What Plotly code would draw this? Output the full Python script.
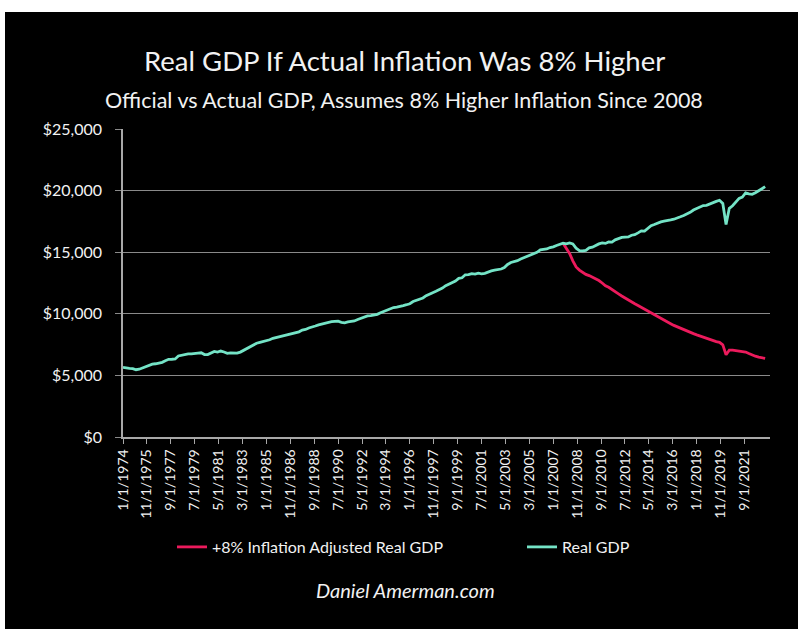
import pandas as pd
import plotly.graph_objects as go

# Quarterly real GDP (billions), 1974 Q1 .. 2023 Q2
quarters = pd.date_range("1974-01-01", "2023-04-01", freq="QS").strftime("%Y-%m-%d").tolist()

real_gdp = [
    5648, 5639, 5573, 5553,   # 1974
    5460, 5498, 5607, 5697,   # 1975
    5860, 5913, 5946, 5993,   # 1976
    6063, 6189, 6307, 6310,   # 1977
    6330, 6577, 6646, 6726,   # 1978
    6741, 6749, 6800, 6816,   # 1979
    6837, 6697, 6688, 6814,   # 1980
    6947, 6895, 6978, 6902,   # 1981
    6795, 6826, 6800, 6802,   # 1982
    6892, 7048, 7189, 7339,   # 1983
    7484, 7612, 7687, 7749,   # 1984
    7825, 7893, 8014, 8073,   # 1985
    8149, 8185, 8264, 8314,   # 1986
    8371, 8457, 8535, 8675,   # 1987
    8729, 8845, 8897, 9008,   # 1988
    9101, 9171, 9239, 9257,   # 1989
    9359, 9392, 9398, 9313,   # 1990
    9270, 9341, 9388, 9422,   # 1991
    9534, 9638, 9733, 9834,   # 1992
    9851, 9908, 9956, 10091,  # 1993
    10189, 10327, 10387, 10506,  # 1994
    10543, 10576, 10666, 10737,  # 1995
    10817, 10998, 11097, 11212,  # 1996
    11284, 11472, 11616, 11716,  # 1997
    11832, 11942, 12092, 12287,  # 1998
    12403, 12499, 12662, 12877,  # 1999
    12925, 13163, 13178, 13260,  # 2000
    13222, 13300, 13244, 13281,  # 2001
    13398, 13478, 13539, 13560,  # 2002
    13635, 13752, 14004, 14165,  # 2003
    14234, 14313, 14445, 14558,  # 2004
    14716, 14785, 14920, 14992,  # 2005
    15194, 15242, 15264, 15381,  # 2006
    15431, 15545, 15616, 15724,  # 2007
    15671, 15752, 15667, 15329,  # 2008
    15135, 15110, 15152, 15347,  # 2009
    15409, 15558, 15671, 15750,  # 2010
    15712, 15826, 15821, 16004,  # 2011
    16130, 16199, 16221, 16240,  # 2012
    16377, 16423, 16566, 16728,  # 2013
    16706, 16903, 17150, 17248,  # 2014
    17370, 17462, 17514, 17541,  # 2015
    17618, 17677, 17806, 17874,  # 2016
    17981, 18089, 18238, 18426,  # 2017
    18538, 18672, 18787, 18803,  # 2018
    18928, 19022, 19122, 19216,  # 2019
    18952, 17254, 18561, 18767,  # 2020
    19056, 19369, 19479, 19807,  # 2021
    19728, 19701, 19834, 19962,  # 2022
    20150, 20320,                # 2023
]

# Real GDP deflated by an extra 8% a year, 2007 Q4 .. 2023 Q2
adj_quarters = quarters[quarters.index("2007-10-01"):]
adjusted_gdp = [
    15724,                       # 2007 Q4
    15350, 14900, 14300, 13800,  # 2008
    13550, 13380, 13200, 13100,  # 2009
    12980, 12850, 12700, 12500,  # 2010
    12280, 12150, 11950, 11800,  # 2011
    11620, 11450, 11280, 11120,  # 2012
    10980, 10820, 10680, 10530,  # 2013
    10330, 10200, 10080, 9930,   # 2014
    9780, 9640, 9480, 9330,      # 2015
    9200, 9060, 8940, 8820,      # 2016
    8700, 8590, 8480, 8390,      # 2017
    8290, 8190, 8090, 7980,      # 2018
    7900, 7820, 7740, 7680,      # 2019
    7480, 6680, 7050, 7050,      # 2020
    7020, 7000, 6950, 6900,      # 2021
    6780, 6650, 6560, 6480,      # 2022
    6420, 6380,                  # 2023
]

x_tick_labels = [
    "1/1/1974", "11/1/1975", "9/1/1977", "7/1/1979", "5/1/1981", "3/1/1983",
    "1/1/1985", "11/1/1986", "9/1/1988", "7/1/1990", "5/1/1992", "3/1/1994",
    "1/1/1996", "11/1/1997", "9/1/1999", "7/1/2001", "5/1/2003", "3/1/2005",
    "1/1/2007", "11/1/2008", "9/1/2010", "7/1/2012", "5/1/2014", "3/1/2016",
    "1/1/2018", "11/1/2019", "9/1/2021",
]
x_tick_vals = [pd.to_datetime(s, format="%m/%d/%Y").strftime("%Y-%m-%d") for s in x_tick_labels]

y_tick_vals = [0, 5000, 10000, 15000, 20000, 25000]
y_tick_labels = ["$0", "$5,000", "$10,000", "$15,000", "$20,000", "$25,000"]

TEAL = "#74e3c6"
RED = "#ec1a5c"
GRID = "#8a8a8a"
AXIS = "#a8a8a8"
TEXT = "#f2f2f2"
FONT = "Lato"

W, H = 798, 629
L, R, T, B = 123, 28, 129, 192
pw, ph = W - L - R, H - T - B


def px_x(px):
    return (px - L) / pw


def px_y(py):
    return (H - B - py) / ph


fig = go.Figure()
fig.add_trace(go.Scatter(
    x=adj_quarters, y=adjusted_gdp, mode="lines",
    name="+8% Inflation Adjusted Real GDP",
    line=dict(color=RED, width=2.8), legend="legend",
))
fig.add_trace(go.Scatter(
    x=quarters, y=real_gdp, mode="lines",
    name="Real GDP",
    line=dict(color=TEAL, width=2.8), legend="legend2",
))

legend_style = dict(
    orientation="h", xanchor="left", yanchor="middle", y=px_y(547),
    font=dict(size=16, color=TEXT, family=FONT), bgcolor="rgba(0,0,0,0)",
    itemwidth=30, borderwidth=0,
)

fig.update_layout(
    width=W, height=H,
    margin=dict(l=L, r=R, t=T, b=B, pad=0),
    paper_bgcolor="white",
    plot_bgcolor="rgba(0,0,0,0)",
    font=dict(family=FONT, color=TEXT),
    showlegend=True,
    legend=dict(x=px_x(172), **legend_style),
    legend2=dict(x=px_x(522), **legend_style),
    xaxis=dict(
        type="date",
        range=["1974-01-01", "2023-08-15"],
        tickvals=x_tick_vals, ticktext=x_tick_labels, tickangle=-90,
        tickfont=dict(size=14, color=TEXT, family=FONT),
        showgrid=False, showline=True, linecolor=AXIS, linewidth=1.5,
        ticks="outside", ticklen=5, tickcolor=AXIS, tickwidth=1,
        zeroline=False,
    ),
    yaxis=dict(
        range=[0, 25000],
        tickvals=y_tick_vals, ticktext=y_tick_labels,
        tickfont=dict(size=16, color=TEXT, family=FONT),
        showgrid=True, gridcolor=GRID, gridwidth=1,
        showline=True, linecolor=AXIS, linewidth=1.5,
        ticks="outside", ticklen=6, tickcolor=GRID,
        zeroline=False, ticklabelstandoff=10,
    ),
    shapes=[dict(
        type="rect", xref="paper", yref="paper", layer="below",
        x0=px_x(5), x1=px_x(W + 2), y0=px_y(H + 2), y1=px_y(12),
        fillcolor="black", line=dict(width=0),
    )],
    annotations=[
        dict(text="Real GDP If Actual Inflation Was 8% Higher", xref="paper", yref="paper",
             x=px_x(404), y=px_y(60), xanchor="center", yanchor="middle", showarrow=False,
             font=dict(size=27.5, color=TEXT, family=FONT)),
        dict(text="Official vs Actual GDP, Assumes 8% Higher Inflation Since 2008", xref="paper", yref="paper",
             x=px_x(404), y=px_y(100), xanchor="center", yanchor="middle", showarrow=False,
             font=dict(size=21.5, color=TEXT, family=FONT)),
        dict(text="<i>Daniel Amerman.com</i>", xref="paper", yref="paper",
             x=px_x(405), y=px_y(590), xanchor="center", yanchor="middle", showarrow=False,
             font=dict(size=20, color=TEXT, family=FONT)),
    ],
)

fig.write_html("out.html")
